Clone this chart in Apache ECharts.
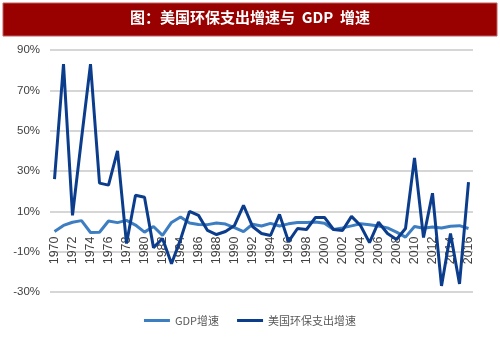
<!DOCTYPE html>
<html><head><meta charset="utf-8">
<script src="https://cdn.jsdelivr.net/npm/echarts@6/dist/echarts.min.js"></script>
<style>html,body{margin:0;padding:0;background:#fff}#c{width:500px;height:337px}</style>
</head><body><div id="c"></div>
<script>
var years = [];
for (var y = 1970; y <= 2016; y++) years.push(String(y));
var gdpGrowth = [0.0,3.0,4.6,5.4,-0.5,-0.4,5.2,4.4,5.5,3.2,-0.3,2.5,-1.9,4.5,7.2,4.2,3.5,3.4,4.2,3.7,1.9,-0.1,3.6,2.7,4.0,2.7,3.8,4.5,4.5,4.7,4.1,1.0,1.8,2.8,3.8,3.3,2.7,1.8,-0.3,-2.8,2.5,1.6,2.2,1.7,2.6,2.9,1.5];
var envGrowth = [26,83,8,46,83,24,23,40,-6,18,17,-8,-3.5,-16,-4,10,8,0.5,-1.5,0,3,13,2.5,-1,-2,8.5,-5,1.5,1,7,7,1,0.5,7.5,3,-5.5,4.6,-1,-4,1.5,36.5,-3,19,-27,-1,-26,24.5];
var yTicks = {min:-30, max:90, interval:20};
var gridTop = 50, gridBottom = 45, H = 337;
var plotH = H - gridTop - gridBottom;
var zeroOffset = -(0 - yTicks.min) / (yTicks.max - yTicks.min) * plotH;
var chart = echarts.init(document.getElementById('c'));
chart.setOption({
  animation:false,
  graphic:[
    {type:'rect', shape:{x:3,y:3,width:494,height:33}, style:{fill:'#990000', stroke:'#c06060', lineWidth:1}},
    {type:'text', left:'center', top:10, style:{text:'图：美国环保支出增速与  GDP  增速', fill:'#fff', font:'bold 15px "Noto Sans CJK SC", sans-serif'}}
  ],
  grid:{left:50, right:27, top:gridTop, bottom:gridBottom},
  legend:{bottom:6, left:'center', itemWidth:26, itemHeight:3, itemGap:18, icon:'rect',
    textStyle:{fontSize:11, color:'#595959', fontFamily:'"Noto Sans CJK SC", sans-serif'},
    data:['GDP增速','美国环保支出增速']},
  xAxis:{type:'category', data:years, boundaryGap:true, position:'bottom', offset:zeroOffset,
    axisLine:{show:false, onZero:false}, axisTick:{show:false},
    axisLabel:{rotate:90, interval:1, fontSize:12.5, color:'#404040', fontFamily:'"Liberation Sans", Arial, sans-serif', margin:5}},
  yAxis:{type:'value', min:yTicks.min, max:yTicks.max, interval:yTicks.interval,
    axisLabel:{formatter:'{value}%', fontSize:11.5, color:'#404040', fontFamily:'"Liberation Sans", Arial, sans-serif', margin:10},
    axisLine:{show:false}, axisTick:{show:false},
    splitLine:{lineStyle:{color:'#c8c8c8', width:1.5}}},
  series:[
    {name:'GDP增速', type:'line', data:gdpGrowth, symbol:'none', lineStyle:{color:'#3d7ec2', width:3}, itemStyle:{color:'#3d7ec2'}},
    {name:'美国环保支出增速', type:'line', data:envGrowth, symbol:'none', lineStyle:{color:'#0b3d8c', width:3}, itemStyle:{color:'#0b3d8c'}}
  ]
});
</script></body></html>
